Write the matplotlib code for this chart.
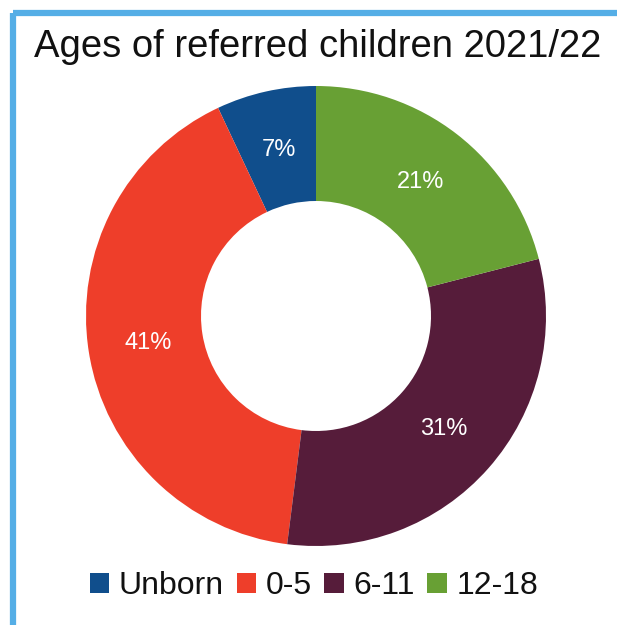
import matplotlib.pyplot as plt
from matplotlib.lines import Line2D

plt.rcParams['font.family'] = ['Liberation Sans', 'DejaVu Sans']

# share of referrals by age group
groups = ['Unborn', '0-5', '6-11', '12-18']
shares = [7, 41, 31, 21]
colours = ['#104E8C', '#EE3E2A', '#561C3A', '#68A034']

fig = plt.figure(figsize=(6.17, 6.25), dpi=100)
fig.patch.set_facecolor('white')

# blue frame along the top and left edges
fig.add_artist(Line2D([0.021, 1.0], [0.979, 0.979], color='#55AEE6', lw=4.5,
                      solid_capstyle='butt'))
fig.add_artist(Line2D([0.021, 0.021], [0.0, 0.979], color='#55AEE6', lw=4.5,
                      solid_capstyle='butt'))

fig.text(0.515, 0.925, 'Ages of referred children 2021/22', ha='center', va='center',
         fontsize=27.5, color='#111111')

# donut centred at about (316, 316) px, outer radius 230 px
ax = fig.add_axes([(316 - 230) / 617, 1 - (316 + 230) / 625, 460 / 617, 460 / 625])
wedges, texts, autotexts = ax.pie(
    shares, colors=colours, startangle=90, counterclock=True,
    autopct='%d%%', pctdistance=0.74, radius=1.0,
    wedgeprops=dict(width=0.5, edgecolor='none'),
    textprops=dict(color='white', fontsize=17))
ax.set_xlim(-1, 1)
ax.set_ylim(-1, 1)
ax.set_aspect('equal')
ax.axis('off')

leg = fig.legend(wedges, groups, loc='center', bbox_to_anchor=(0.509, 0.062),
                 ncol=4, frameon=False, fontsize=23, handlelength=0.6, handleheight=0.6,
                 handletextpad=0.3, columnspacing=0.4, borderpad=0, borderaxespad=0)
for t in leg.get_texts():
    t.set_color('#111111')

fig.savefig('out.png', dpi=100)
